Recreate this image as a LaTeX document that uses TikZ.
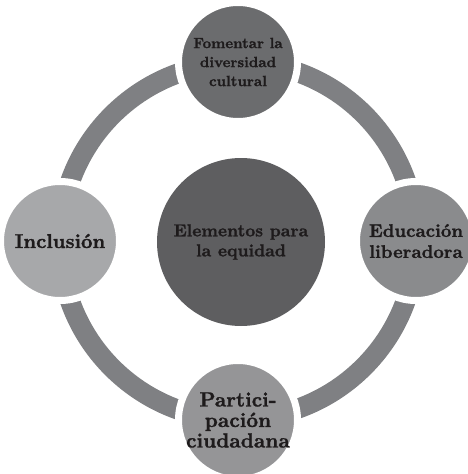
\documentclass[tikz,border=0pt]{standalone}
\usepackage{fontspec}
\usetikzlibrary{backgrounds}
\newfontfamily\heavyfont{lmroman10-bold}[Extension=.otf, FakeBold=1.2]
\begin{document}
\begin{tikzpicture}[x=1pt,y=-1pt,
  txt/.style={text=txtc, font=\heavyfont, align=center},
  sat/.style={circle, minimum size=119pt, inner sep=0pt, draw=white, line width=7pt, txt},
  ringband/.style={draw=ringc, line width=20pt}]
\definecolor{txtc}{HTML}{1E1B1C}
\definecolor{ringc}{HTML}{7F8083}
\definecolor{cenc}{HTML}{5E5E60}
\definecolor{topc}{HTML}{6B6C6E}
\definecolor{rightc}{HTML}{8A8B8D}
\definecolor{botc}{HTML}{959597}
\definecolor{leftc}{HTML}{A7A8AA}
\useasboundingbox (0,0) rectangle (468,474);
\node[circle, minimum size=168pt, inner sep=0pt, fill=cenc, txt,
  font=\heavyfont\fontsize{17.3}{20}\selectfont] (center) at (241,242) {Elementos para\\la equidad};
\node[sat, fill=topc, font=\heavyfont\fontsize{14.8}{19}\selectfont] (top) at (238,62) {Fomentar la\\diversidad\\cultural};
\node[sat, fill=rightc, font=\heavyfont\fontsize{18.3}{21}\selectfont] (right) at (416,241) {Educación\\liberadora};
\node[sat, fill=botc, font=\heavyfont\fontsize{20.5}{20.5}\selectfont] (bottom) at (238,420) {Partici-\\pación\\ciudadana};
\node[sat, fill=leftc, font=\heavyfont\fontsize{20}{21}\selectfont] (left) at (60,241) {Inclusión};
\begin{pgfonlayer}{background}
\draw[ringband] (top.center) arc[start angle=270, end angle=360, radius=178];
\draw[ringband] (right.center) arc[start angle=0, end angle=90, radius=178];
\draw[ringband] (bottom.center) arc[start angle=90, end angle=180, radius=178];
\draw[ringband] (left.center) arc[start angle=180, end angle=270, radius=178];
\end{pgfonlayer}
\end{tikzpicture}
\end{document}
